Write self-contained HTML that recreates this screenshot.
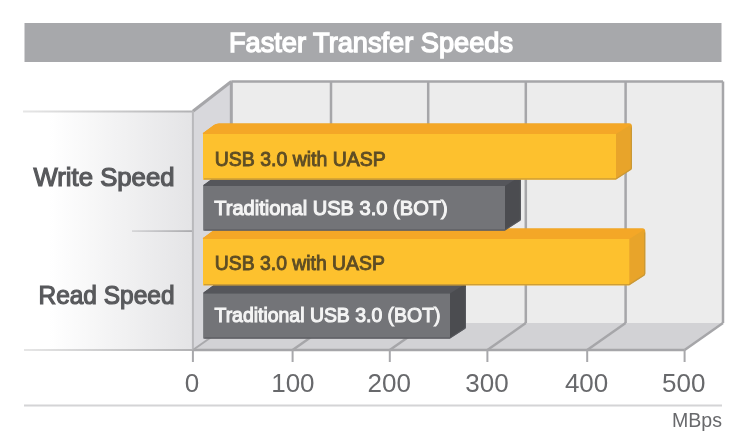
<!DOCTYPE html>
<html>
<head>
<meta charset="utf-8">
<style>
html,body{margin:0;padding:0;background:#fff;}
body{width:750px;height:448px;overflow:hidden;position:relative;}
svg{position:absolute;left:0;top:0;display:block;filter:blur(0.45px);}
text{font-family:"Liberation Sans",sans-serif;}
</style>
</head>
<body>
<svg width="750" height="448" viewBox="0 0 750 448">
<defs>
  <linearGradient id="panel" x1="24" y1="0" x2="193" y2="0" gradientUnits="userSpaceOnUse">
    <stop offset="0" stop-color="#ffffff"/>
    <stop offset="0.15" stop-color="#ffffff"/>
    <stop offset="1" stop-color="#e4e4e6"/>
  </linearGradient>
  <linearGradient id="pline" x1="24" y1="0" x2="193" y2="0" gradientUnits="userSpaceOnUse">
    <stop offset="0" stop-color="#e6e6e6"/>
    <stop offset="1" stop-color="#b2b2b4"/>
  </linearGradient>
  <linearGradient id="dline" x1="132" y1="0" x2="193" y2="0" gradientUnits="userSpaceOnUse">
    <stop offset="0" stop-color="#d6d6d8"/>
    <stop offset="1" stop-color="#a9a9ac"/>
  </linearGradient>
</defs>

<rect x="24.5" y="23" width="697" height="39" fill="#a7a8ab"/>
<text x="229" y="51.7" font-size="28" fill="#ffffff" stroke="#ffffff" stroke-width="1.4" textLength="284" lengthAdjust="spacingAndGlyphs">Faster Transfer Speeds</text>

<rect x="24" y="111" width="169" height="239" fill="url(#panel)"/>
<rect x="23" y="110.5" width="170" height="2" fill="url(#pline)"/>
<rect x="24" y="349" width="169" height="2" fill="url(#pline)"/>
<rect x="132" y="230.2" width="61" height="1.8" fill="url(#dline)"/>
<text x="33.5" y="186" font-size="25.5" fill="#58595c" stroke="#58595c" stroke-width="1.2" textLength="141" lengthAdjust="spacingAndGlyphs">Write Speed</text>
<text x="38.5" y="303.5" font-size="25.5" fill="#58595c" stroke="#58595c" stroke-width="1.2" textLength="136" lengthAdjust="spacingAndGlyphs">Read Speed</text>

<rect x="231.3" y="81.5" width="491.7" height="241.5" fill="#ececec"/>
<polygon points="192.9,111 231.3,81.5 231.3,323 192.9,350" fill="#d8d8dc"/>
<polygon points="192.9,350 231.3,323 723,323 684.6,350" fill="#d2d2d5"/>

<g stroke="#a6a6a9" stroke-width="2.5" fill="none">
<line x1="231.3" y1="81.5" x2="723" y2="81.5"/>
<line x1="231.3" y1="81.5" x2="231.3" y2="323" stroke-width="3"/>
<line x1="723" y1="81.5" x2="723" y2="323"/>
<line x1="192.9" y1="111.3" x2="231.3" y2="81.5" stroke-width="3"/>
<line x1="723" y1="323" x2="684.6" y2="350"/>
<line x1="331" y1="81.5" x2="331" y2="323"/>
<line x1="331" y1="323" x2="292.6" y2="350"/>
<line x1="428.2" y1="81.5" x2="428.2" y2="323"/>
<line x1="428.2" y1="323" x2="389.8" y2="350"/>
<line x1="525.8" y1="81.5" x2="525.8" y2="323"/>
<line x1="525.8" y1="323" x2="487.4" y2="350"/>
<line x1="625.6" y1="81.5" x2="625.6" y2="323"/>
<line x1="625.6" y1="323" x2="587.2" y2="350"/>
<line x1="192.9" y1="350" x2="684.6" y2="350"/>
</g>
<line x1="192.9" y1="111" x2="192.9" y2="350" stroke="#b9b9bc" stroke-width="2"/>
<line x1="192.9" y1="350" x2="231.3" y2="323" stroke="#a9a9ac" stroke-width="2"/>
<g stroke="#a8a8ab" stroke-width="2">
<line x1="192.9" y1="350" x2="192.9" y2="362"/>
<line x1="292.6" y1="350" x2="292.6" y2="362"/>
<line x1="389.8" y1="350" x2="389.8" y2="362"/>
<line x1="487.4" y1="350" x2="487.4" y2="362"/>
<line x1="587.2" y1="350" x2="587.2" y2="362"/>
<line x1="684.6" y1="350" x2="684.6" y2="362"/>
</g>

<path d="M203.5,293.5 Q203.0,292.5 205.0,291.5 L214.5,284.5 Q216.5,283.0 219.5,283.0 L463,283.0 Q466,283.0 466,286.0 L466,327.0 Q466,328.5 464,329.5 L450,338.5 L203.5,338.5 Z" fill="#4b4c50"/>
<path d="M203.5,293.5 Q203.0,292.5 205.0,291.5 L214.5,284.5 Q216.5,283.0 219.5,283.0 L463,283.0 Q466,283.0 465,284.0 L450,293.5 Z" fill="#55565b"/>
<rect x="203.5" y="293.5" width="246.5" height="45.0" fill="#737478"/>
<path d="M204.5,337.9 L450,337.9 L464.5,328.6 Q465.4,327.8 465.4,326.5 L465.4,287.0" fill="none" stroke="#5a5b60" stroke-width="1.2" stroke-opacity="0.8"/>
<text x="214.5" y="322.4" font-size="20.5" fill="#f4f4f4" stroke="#f4f4f4" stroke-width="1.1" textLength="226" lengthAdjust="spacingAndGlyphs">Traditional USB 3.0 (BOT)</text>
<path d="M203,239 Q202.5,238 204.5,237 L214,230.0 Q216,228.5 219,228.5 L642.3,228.5 Q645.3,228.5 645.3,231.5 L645.3,273.7 Q645.3,275.2 643.3,276.2 L629.3,285.2 L203,285.2 Z" fill="#e8a42a"/>
<path d="M203,239 Q202.5,238 204.5,237 L214,230.0 Q216,228.5 219,228.5 L642.3,228.5 Q645.3,228.5 644.3,229.5 L629.3,239 Z" fill="#f4a727"/>
<rect x="203" y="239" width="426.29999999999995" height="46.19999999999999" fill="#fdc12e"/>
<path d="M204,284.59999999999997 L629.3,284.59999999999997 L643.8,275.3 Q644.6999999999999,274.5 644.6999999999999,273.2 L644.6999999999999,232.5" fill="none" stroke="#c0953a" stroke-width="1.2" stroke-opacity="0.8"/>
<text x="214.8" y="269.9" font-size="20.5" fill="#5e4d25" stroke="#5e4d25" stroke-width="0.95" textLength="170" lengthAdjust="spacingAndGlyphs">USB 3.0 with UASP</text>
<path d="M203.5,186 Q203.0,185 205.0,184 L214.5,177.0 Q216.5,175.5 219.5,175.5 L518,175.5 Q521,175.5 521,178.5 L521,219.0 Q521,220.5 519,221.5 L505,230.5 L203.5,230.5 Z" fill="#4b4c50"/>
<path d="M203.5,186 Q203.0,185 205.0,184 L214.5,177.0 Q216.5,175.5 219.5,175.5 L518,175.5 Q521,175.5 520,176.5 L505,186 Z" fill="#55565b"/>
<rect x="203.5" y="186" width="301.5" height="44.5" fill="#737478"/>
<path d="M204.5,229.9 L505,229.9 L519.5,220.6 Q520.4,219.8 520.4,218.5 L520.4,179.5" fill="none" stroke="#5a5b60" stroke-width="1.2" stroke-opacity="0.8"/>
<text x="214.2" y="215.3" font-size="20.5" fill="#f4f4f4" stroke="#f4f4f4" stroke-width="1.1" textLength="233.5" lengthAdjust="spacingAndGlyphs">Traditional USB 3.0 (BOT)</text>
<path d="M203,134 Q202.5,133 204.5,132 L214,125.0 Q216,123.5 219,123.5 L629,123.5 Q632,123.5 632,126.5 L632,168.0 Q632,169.5 630,170.5 L616,179.5 L203,179.5 Z" fill="#e8a42a"/>
<path d="M203,134 Q202.5,133 204.5,132 L214,125.0 Q216,123.5 219,123.5 L629,123.5 Q632,123.5 631,124.5 L616,134 Z" fill="#f4a727"/>
<rect x="203" y="134" width="413" height="45.5" fill="#fdc12e"/>
<path d="M204,178.9 L616,178.9 L630.5,169.6 Q631.4,168.8 631.4,167.5 L631.4,127.5" fill="none" stroke="#c0953a" stroke-width="1.2" stroke-opacity="0.8"/>
<text x="214.8" y="166.2" font-size="20.5" fill="#5e4d25" stroke="#5e4d25" stroke-width="0.95" textLength="171" lengthAdjust="spacingAndGlyphs">USB 3.0 with UASP</text>

<g font-size="26" fill="#68696c" text-anchor="middle">
  <text x="192" y="392.2">0</text>
  <text x="292.9" y="392.2">100</text>
  <text x="389.3" y="392.2">200</text>
  <text x="487" y="392.2">300</text>
  <text x="586.6" y="392.2">400</text>
  <text x="683.8" y="392.2">500</text>
</g>
<rect x="24" y="404.5" width="698" height="2" fill="#d4d4d6"/>
<text x="672" y="427.3" font-size="19.5" fill="#68696c" textLength="50" lengthAdjust="spacingAndGlyphs">MBps</text>
</svg>
</body>
</html>
